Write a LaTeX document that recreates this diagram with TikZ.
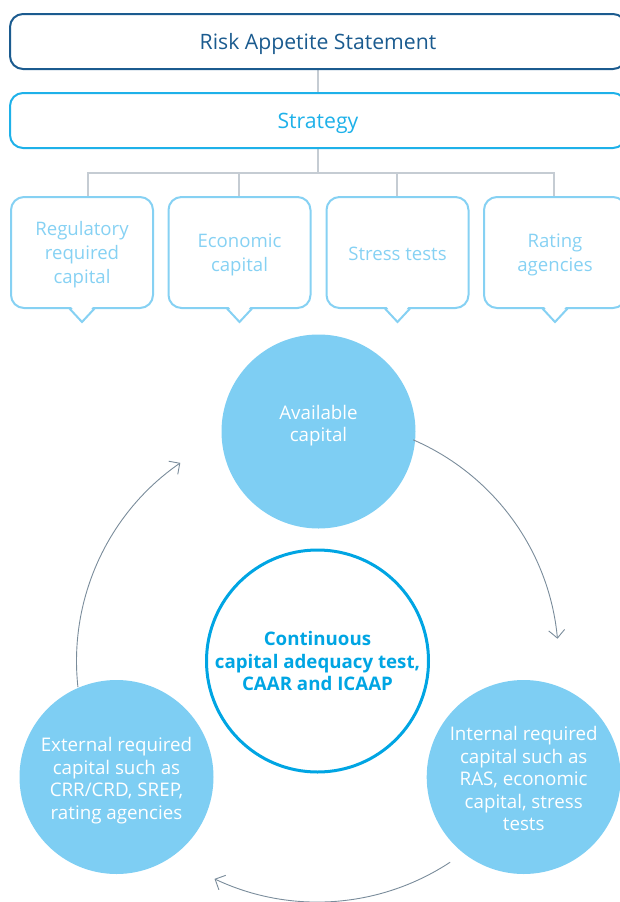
\documentclass[tikz,border=0pt]{standalone}
\usepackage{fontspec}
\setmainfont{Open Sans}
\usetikzlibrary{arrows.meta,calc,backgrounds}
\definecolor{darkblue}{HTML}{1B5B8F}
\definecolor{strat}{HTML}{1EB1E9}
\definecolor{lightb}{HTML}{86D1F3}
\definecolor{circfill}{HTML}{7ECEF3}
\definecolor{midblue}{HTML}{00A5E3}
\definecolor{connec}{HTML}{C5CCD3}
\definecolor{arrowc}{HTML}{7A8C9B}
\tikzset{
 topbox/.style={draw=darkblue, line width=2pt, rounded corners=13pt, minimum width=616pt, minimum height=55pt, text=darkblue, font=\fontsize{21.2}{25}\selectfont, inner sep=0pt, text depth=0pt},
 stratbox/.style={topbox, draw=strat, text=strat},
 calloutbox/.style={draw=lightb, line width=2pt, rounded corners=13pt, minimum width=142pt, minimum height=111pt, text=lightb, align=center, font=\fontsize{18.6}{24}\selectfont, inner sep=0pt, outer sep=0pt, text depth=0pt},
 pointer/.style={draw=lightb, line width=2pt},
 bubble/.style={circle, fill=circfill, minimum size=194pt, inner sep=0pt},
 bubbletext/.style={text=white, align=center, font=\fontsize{18.75}{22.5}\selectfont, inner sep=0pt},
 core/.style={circle, draw=midblue, line width=3pt, minimum size=222pt, inner sep=0pt, text=midblue, align=center, font=\bfseries\fontsize{18.7}{22.7}\selectfont},
 link/.style={draw=connec, line width=2.5pt},
 cyc/.style={draw=arrowc, line width=0.9pt, -{Straight Barb[length=8pt,width=16pt]}},
}
\begin{document}
\begin{tikzpicture}[x=1pt,y=1pt]
\useasboundingbox (0,0) rectangle (619,-902);
% top boxes
\node[topbox] (ras) at (318,-41.5) {Risk Appetite Statement};
\node[stratbox] (strat) at (318,-120.5) {Strategy};
% callouts
\node[calloutbox] (c1) at (82,-252.5) {Regulatory\\required\\capital};
\node[calloutbox] (c2) at (239.5,-252.5) {Economic\\capital};
\node[calloutbox] (c3) at (397.5,-252.5) {\raisebox{-2pt}{Stress tests}};
\node[calloutbox] (c4) at (555,-252.5) {Rating\\agencies};
\foreach \n in {c1,c2,c3,c4}{
  \fill[white] ([xshift=-11pt,yshift=1.3pt]\n.south) -- ([yshift=-12pt]\n.south) -- ([xshift=11pt,yshift=1.3pt]\n.south) -- cycle;
  \draw[pointer] ([xshift=-13pt]\n.south) -- ([yshift=-14pt]\n.south) -- ([xshift=13pt]\n.south);
}
% connectors
\coordinate (j) at (318,-173);
\coordinate (j1) at (88,-173);
\coordinate (j2) at (239,-173);
\coordinate (j3) at (397,-173);
\coordinate (j4) at (554,-173);
\begin{scope}[on background layer]
\draw[link] (ras) -- (strat);
\draw[link] (strat) -- (j);
\draw[link] (j1 |- c1.north) -- (j1) -- (j4) -- (j4 |- c4.north);
\draw[link] (j2) -- (j2 |- c2.north);
\draw[link] (j3) -- (j3 |- c3.north);
\end{scope}
% circles
\node[bubble] (avail) at (318.5,-431.5) {};
\node[bubbletext] (availtxt) at ([yshift=6pt]avail.center) {Available\\capital};
\node[core] (core) at (317.5,-661) {Continuous\\capital adequacy test,\\CAAR and ICAAP};
\node[bubble] (intern) at (523.7,-777) {};
\node[bubbletext] (interntxt) at ([yshift=-1.5pt]intern.center) {Internal required\\capital such as\\RAS, economic\\capital, stress\\tests};
\node[bubble] (extern) at (116.5,-777) {};
\node[bubbletext] (externtxt) at ([yshift=-3.5pt]extern.center) {External required\\capital such as\\CRR/CRD, SREP,\\rating agencies};
% cycle arrows
\coordinate (a1s) at ($(core.center)+(66.6:241)$);
\coordinate (a2s) at ($(core.center)+(303.4:241)$);
\coordinate (a3s) at ($(core.center)+(186.2:241)$);
\draw[cyc] (a1s) arc[start angle=66.6, end angle=5.3, radius=241pt];
\draw[cyc] (a2s) arc[start angle=303.4, end angle=244.7, radius=241pt];
\draw[cyc] (a3s) arc[start angle=186.2, end angle=124.7, radius=241pt];
\end{tikzpicture}
\end{document}
